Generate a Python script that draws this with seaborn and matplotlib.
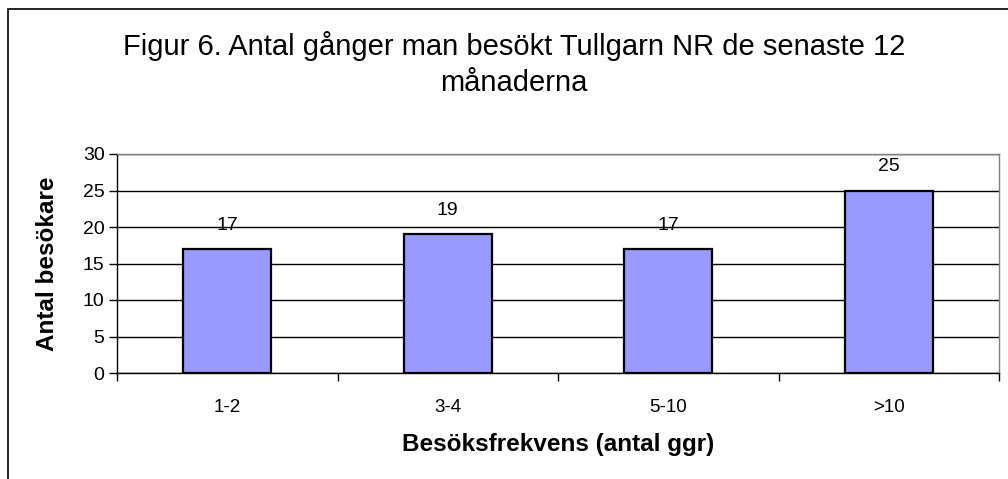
import matplotlib
matplotlib.use("Agg")
import matplotlib.pyplot as plt
import seaborn as sns
import pandas as pd
from matplotlib.patches import Rectangle

# Visit frequency categories and number of visitors
categories = ["1-2", "3-4", "5-10", ">10"]
visitors = [17, 19, 17, 25]
y_ticks = [0, 5, 10, 15, 20, 25, 30]

title = "Figur 6. Antal gånger man besökt Tullgarn NR de senaste 12\nmånaderna"
x_label = "Besöksfrekvens (antal ggr)"
y_label = "Antal besökare"

sns.set_style("white")
plt.rcParams["font.family"] = ["Liberation Sans", "DejaVu Sans"]
plt.rcParams["text.color"] = "black"
plt.rcParams["axes.labelcolor"] = "black"
plt.rcParams["xtick.color"] = "black"
plt.rcParams["ytick.color"] = "black"

df = pd.DataFrame({"kategori": categories, "antal": visitors})

fig = plt.figure(figsize=(10.08, 4.79), dpi=100)
ax = fig.add_axes([117 / 1008, 1 - 373 / 479, (999 - 117) / 1008, (373 - 154) / 479])

sns.barplot(data=df, x="kategori", y="antal", color="#9999FF", width=0.4,
            edgecolor="black", linewidth=1.6, saturation=1, ax=ax, zorder=3)
for p in ax.patches:
    p.set_facecolor("#9999FF")

ax.set_ylim(0, 30)
ax.set_xlim(-0.5, len(categories) - 0.5)
ax.set_yticks(y_ticks)
ax.yaxis.grid(True, color="black", linewidth=1.0, zorder=0)
ax.set_axisbelow(True)

# Category labels centred, tick marks on category boundaries
ax.set_xticks(range(len(categories)))
ax.set_xticklabels(categories)
ax.tick_params(axis="x", which="major", length=0, pad=19, labelsize=13.5)
ax.set_xticks([i - 0.5 for i in range(len(categories) + 1)], minor=True)
ax.tick_params(axis="x", which="minor", length=6, width=1.0, color="black",
               direction="out", bottom=True)
ax.tick_params(axis="y", length=6, width=1.0, color="black", direction="out",
               left=True, labelsize=14, pad=3)

for side in ("left", "bottom"):
    ax.spines[side].set_color("black")
    ax.spines[side].set_linewidth(1.0)
for side in ("top", "right"):
    ax.spines[side].set_visible(True)
    ax.spines[side].set_color("#808080")
    ax.spines[side].set_linewidth(1.0)

for i, v in enumerate(visitors):
    ax.annotate(str(v), (i, v), xytext=(0, 17), textcoords="offset points",
                ha="center", va="center", fontsize=14)

ax.set_xlabel(x_label, fontsize=17.5, fontweight="bold", va="center")
ax.xaxis.set_label_coords(0.5, (373 - 444) / 219)
ax.set_ylabel(y_label, fontsize=17.5, fontweight="bold", va="center")
ax.yaxis.set_label_coords((48 - 117) / 882, 0.5)

fig.text(514 / 1008, 1 - 64 / 479, title, ha="center", va="center",
         fontsize=21, linespacing=1.4)

# Outer frame around the chart
fig.patches.append(Rectangle((8 / 1008, -0.1), 1.2, 1 - 9 / 479 + 0.1,
                             transform=fig.transFigure, fill=False,
                             edgecolor="black", linewidth=1.2, clip_on=False))

fig.savefig("out.png", dpi=100, facecolor="white")
